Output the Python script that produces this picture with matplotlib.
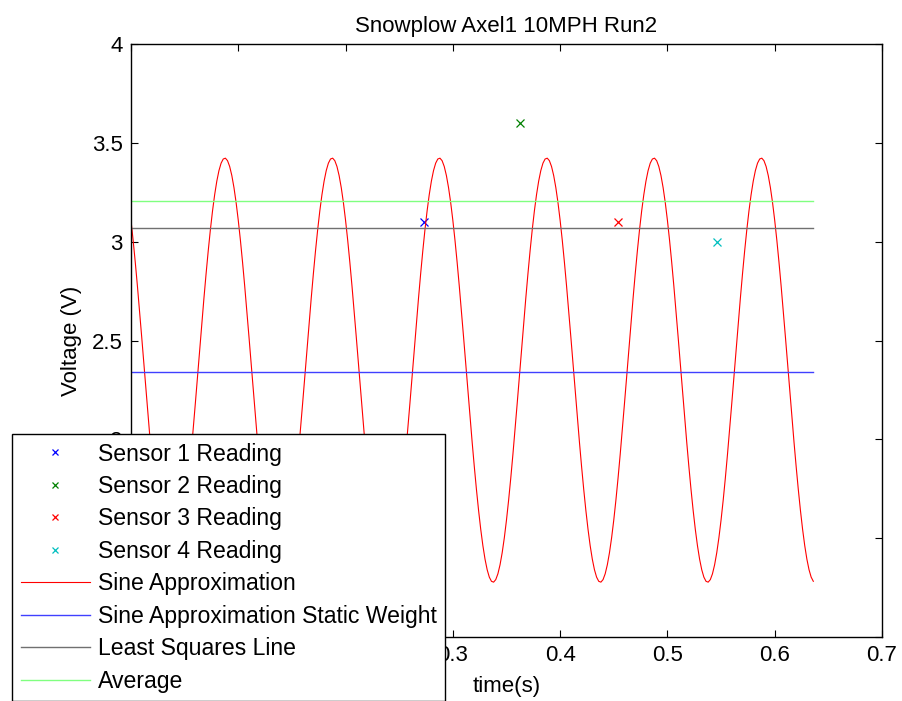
import numpy as np
import matplotlib.pyplot as plt

plt.rcParams['font.family'] = ['Liberation Sans', 'DejaVu Sans']

# sensor readings (time s, voltage V)
sensor_t = [0.273, 0.363, 0.4535, 0.5465]
sensor_v = [3.10, 3.60, 3.10, 3.00]
sensor_names = ['Sensor 1 Reading', 'Sensor 2 Reading', 'Sensor 3 Reading', 'Sensor 4 Reading']
sensor_colors = ['#0000ff', '#008000', '#ff0000', '#00bfbf']

# fitted sine
sine_offset = 2.35
sine_amp = 1.073
sine_period = 0.1
sine_peak_t = 0.0875
t_end = 0.636

static_weight = 2.343
least_squares = 3.071
average = 3.204

t = np.arange(0, t_end + 1e-9, 0.002)
sine = sine_offset + sine_amp * np.cos(2 * np.pi * (t - sine_peak_t) / sine_period)

fig = plt.figure(figsize=(9.02, 7.01), dpi=100)
ax = fig.add_axes([0.1452, 0.0913, 0.8326, 0.8459])

for tt, vv, nm, c in zip(sensor_t, sensor_v, sensor_names, sensor_colors):
    ax.plot([tt], [vv], 'x', color=c, markersize=6, mew=0.9, label=nm)

ax.plot(t, sine, color='#ff0000', lw=0.8, label='Sine Approximation')
ax.plot([0, t_end], [static_weight] * 2, color='#4040ff', lw=1.0, label='Sine Approximation Static Weight')
ax.plot([0, t_end], [least_squares] * 2, color='#707070', lw=1.0, label='Least Squares Line')
ax.plot([0, t_end], [average] * 2, color='#80ff80', lw=1.0, label='Average')

ax.set_xlim(0, 0.7)
ax.set_ylim(1, 4)
ax.set_xticks(np.arange(0, 0.71, 0.1))
ax.set_xticklabels(['0', '0.1', '0.2', '0.3', '0.4', '0.5', '0.6', '0.7'])
ax.set_yticks([1, 1.5, 2, 2.5, 3, 3.5, 4])
ax.set_yticklabels(['1', '1.5', '2', '2.5', '3', '3.5', '4'])
ax.tick_params(direction='in', top=True, right=True, length=5, width=0.8,
               labelsize=16, pad=6)
for s in ax.spines.values():
    s.set_linewidth(1.0)

ax.set_title('Snowplow Axel1 10MPH Run2', fontsize=16, pad=9)
ax.set_xlabel('time(s)', fontsize=16, labelpad=7)
ax.set_ylabel('Voltage (V)', fontsize=16, labelpad=7)

leg = ax.legend(loc='upper left', bbox_to_anchor=(12 / 902, 1 - 434 / 701),
                bbox_transform=fig.transFigure, fontsize=16.6, fancybox=False,
                framealpha=1, edgecolor='black', handlelength=3.0,
                handletextpad=0.36, labelspacing=0.41, borderpad=0.37,
                borderaxespad=0, numpoints=1, markerscale=0.75)
leg.get_frame().set_linewidth(1.0)

fig.savefig('out.png', dpi=100)
